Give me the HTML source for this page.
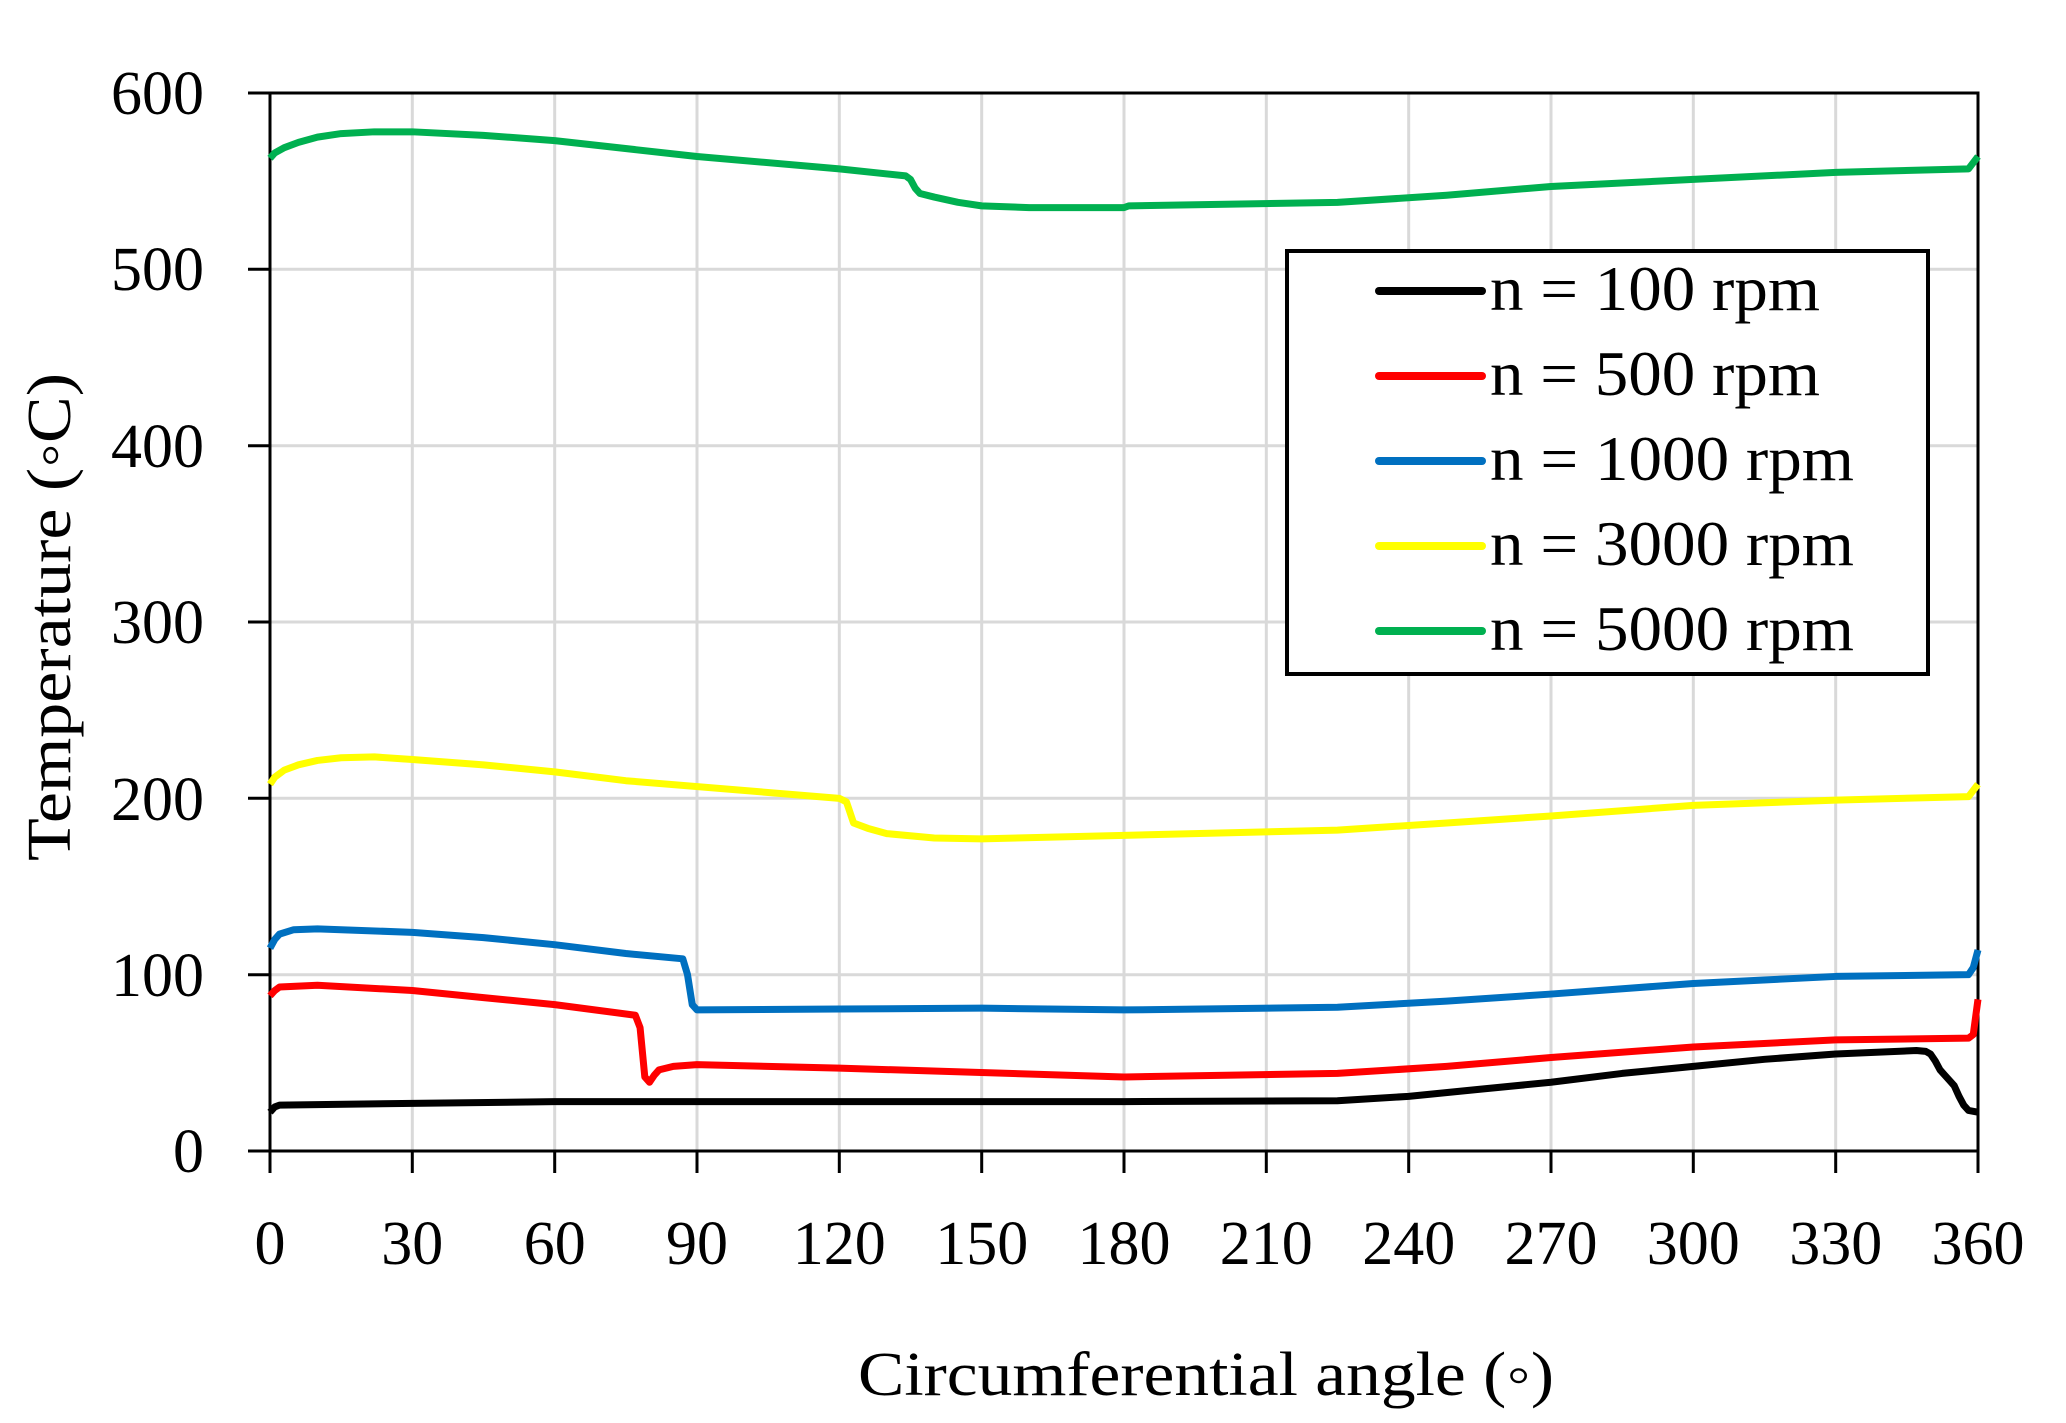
<!DOCTYPE html>
<html><head><meta charset="utf-8"><style>
html,body{margin:0;padding:0;background:#fff}
svg{display:block}
text{font-family:"Liberation Serif",serif;fill:#000}
</style></head><body>
<svg width="2066" height="1423" viewBox="0 0 2066 1423" xmlns="http://www.w3.org/2000/svg">
<g stroke="#d9d9d9" stroke-width="3">
<line x1="412.3" y1="93" x2="412.3" y2="1151"/><line x1="554.7" y1="93" x2="554.7" y2="1151"/>
<line x1="697" y1="93" x2="697" y2="1151"/><line x1="839.3" y1="93" x2="839.3" y2="1151"/>
<line x1="981.7" y1="93" x2="981.7" y2="1151"/><line x1="1124" y1="93" x2="1124" y2="1151"/>
<line x1="1266.3" y1="93" x2="1266.3" y2="1151"/><line x1="1408.7" y1="93" x2="1408.7" y2="1151"/>
<line x1="1551" y1="93" x2="1551" y2="1151"/><line x1="1693.3" y1="93" x2="1693.3" y2="1151"/>
<line x1="1835.7" y1="93" x2="1835.7" y2="1151"/>
<line x1="270" y1="974.7" x2="1978" y2="974.7"/><line x1="270" y1="798.3" x2="1978" y2="798.3"/>
<line x1="270" y1="622" x2="1978" y2="622"/><line x1="270" y1="445.7" x2="1978" y2="445.7"/>
<line x1="270" y1="269.3" x2="1978" y2="269.3"/>
</g>
<g stroke="#000" stroke-width="3" fill="none">
<rect x="270" y="93" width="1708" height="1058"/>
<path d="M248 93H270M248 269.3H270M248 445.7H270M248 622H270M248 798.3H270M248 974.7H270M248 1151H270"/>
<path d="M270 1151v22M412.3 1151v22M554.7 1151v22M697 1151v22M839.3 1151v22M981.7 1151v22M1124 1151v22M1266.3 1151v22M1408.7 1151v22M1551 1151v22M1693.3 1151v22M1835.7 1151v22M1978 1151v22"/>
</g>
<g font-size="62" text-anchor="end">
<text x="204" y="114">600</text><text x="204" y="290">500</text><text x="204" y="467">400</text>
<text x="204" y="643">300</text><text x="204" y="820">200</text><text x="204" y="996">100</text><text x="204" y="1172">0</text>
</g>
<g font-size="62" text-anchor="middle">
<text x="270" y="1264">0</text><text x="412.3" y="1264">30</text><text x="554.7" y="1264">60</text>
<text x="697" y="1264">90</text><text x="839.3" y="1264">120</text><text x="981.7" y="1264">150</text>
<text x="1124" y="1264">180</text><text x="1266.3" y="1264">210</text><text x="1408.7" y="1264">240</text>
<text x="1551" y="1264">270</text><text x="1693.3" y="1264">300</text><text x="1835.7" y="1264">330</text>
<text x="1978" y="1264">360</text>
</g>
<text x="858" y="1395" font-size="62" textLength="696" lengthAdjust="spacingAndGlyphs">Circumferential angle (◦)</text>
<text transform="translate(70,617) rotate(-90)" x="-244" y="0" font-size="62" textLength="488" lengthAdjust="spacingAndGlyphs">Temperature (◦C)</text>
<g transform="translate(270,1151) scale(4.7444,-1.7633)" fill="none" stroke-width="7" stroke-linejoin="round">
<polyline vector-effect="non-scaling-stroke" stroke="#000" points="0,22 1,25 2,26 30,27 60,28 180,28 225,28.5 240,31 255,35 270,39 285,44 300,48 315,52 330,55 347,57 349,56.5 350,55 351,51 352,46 353,43 354,40 355,37 356,31 357,26 358,23 360,22"/>
<polyline vector-effect="non-scaling-stroke" stroke="#ff0000" points="0,88 1,91 2,93 10,94 30,91 45,87 60,83 77,77 78,70 79,42 80,39 81,43 82,46 85,48 90,49 120,47 180,42 225,44 248,48 270,53 300,59 330,63 358,64 359,66 360,86"/>
<polyline vector-effect="non-scaling-stroke" stroke="#0070c0" points="0,115 1,120 2,123 5,125.5 10,126 30,124 45,121 60,117 75,112 87,109 88,100 89,83 90,80 120,80.5 150,81 180,80 225,81.5 248,85 270,89 300,95 330,99 358,100 359,104 360,114"/>
<polyline vector-effect="non-scaling-stroke" stroke="#ffff00" points="0,208 1,212 3,216 6,219 10,221.5 15,223 22,223.5 30,222 45,219 60,215 75,210 120,200 121.5,198 122,194 123,186 126,183 130,180 140,177.5 150,177 180,179 225,182 248,186 270,190 300,196 330,199 358,201 360,208"/>
<polyline vector-effect="non-scaling-stroke" stroke="#00b050" points="0,563 1,566 3,569 6,572 10,575 15,577 22,578 30,578 45,576 60,573 90,564 120,557 134,553 135,551 136,546 137,543 140,541 145,538 150,536 160,535 180,535 181,536 225,538 248,542 270,547 300,551 330,555 358,557 360,564"/>
</g>
<rect x="1287" y="251" width="641" height="423" fill="#fff" stroke="#000" stroke-width="4"/>
<g stroke-width="8" stroke-linecap="round">
<line x1="1379" y1="291" x2="1482" y2="291" stroke="#000"/>
<line x1="1379" y1="376" x2="1482" y2="376" stroke="#ff0000"/>
<line x1="1379" y1="461" x2="1482" y2="461" stroke="#0070c0"/>
<line x1="1379" y1="546" x2="1482" y2="546" stroke="#ffff00"/>
<line x1="1379" y1="631" x2="1482" y2="631" stroke="#00b050"/>
</g>
<g font-size="64">
<text x="1490" y="310" textLength="330" lengthAdjust="spacingAndGlyphs">n = 100 rpm</text>
<text x="1490" y="395" textLength="330" lengthAdjust="spacingAndGlyphs">n = 500 rpm</text>
<text x="1490" y="480" textLength="364" lengthAdjust="spacingAndGlyphs">n = 1000 rpm</text>
<text x="1490" y="565" textLength="364" lengthAdjust="spacingAndGlyphs">n = 3000 rpm</text>
<text x="1490" y="650" textLength="364" lengthAdjust="spacingAndGlyphs">n = 5000 rpm</text>
</g>
</svg>
</body></html>
